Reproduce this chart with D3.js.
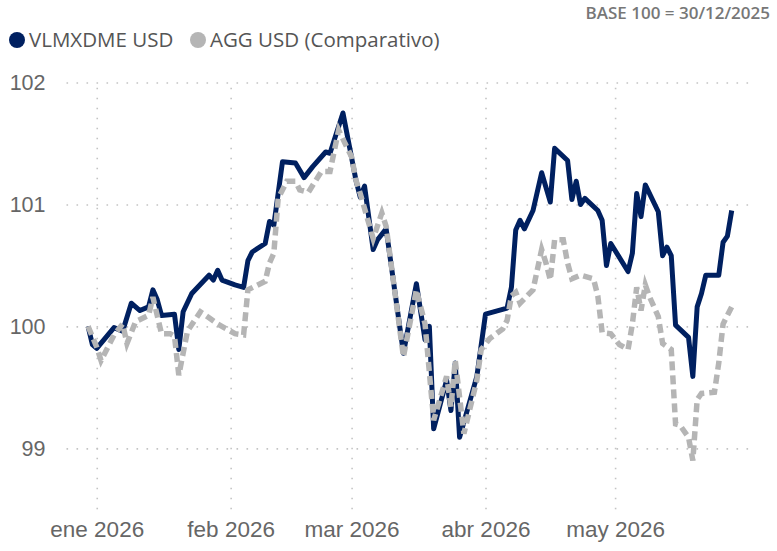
<!DOCTYPE html>
<html>
<head>
<meta charset="utf-8">
<script src="https://cdn.jsdelivr.net/npm/d3@7"></script>
<style>
  body { margin: 0; background: #fff; }
  svg { display: block; font-family: "Open Sans", "Noto Sans", sans-serif; }
  .grid line { stroke: #c4c4c4; stroke-width: 1.6; stroke-dasharray: 1.6 8.4; }
  .grid text { fill: #666; }
  .grid.y text { font-size: 21.5px; }
  .grid.x text { font-size: 22.5px; }
</style>
</head>
<body>
<svg id="chart" width="777" height="551"></svg>
<script>
// series: VLMXDME USD
const fundDates = [
  '2025-12-30', '2025-12-31', '2026-01-01', '2026-01-05', '2026-01-07', '2026-01-09', '2026-01-11',
  '2026-01-13', '2026-01-14', '2026-01-15', '2026-01-16', '2026-01-19', '2026-01-20', '2026-01-21',
  '2026-01-23', '2026-01-27', '2026-01-28', '2026-01-29', '2026-01-30', '2026-02-02', '2026-02-04',
  '2026-02-05', '2026-02-06', '2026-02-09', '2026-02-10', '2026-02-11', '2026-02-13', '2026-02-16',
  '2026-02-17', '2026-02-18', '2026-02-20', '2026-02-23', '2026-02-24', '2026-02-27', '2026-03-02',
  '2026-03-03', '2026-03-04', '2026-03-06', '2026-03-07', '2026-03-09', '2026-03-13', '2026-03-16',
  '2026-03-18', '2026-03-19', '2026-03-20', '2026-03-23', '2026-03-24', '2026-03-25', '2026-03-26',
  '2026-03-30', '2026-04-01', '2026-04-06', '2026-04-07', '2026-04-08', '2026-04-09', '2026-04-10',
  '2026-04-12', '2026-04-14', '2026-04-16', '2026-04-17', '2026-04-20', '2026-04-21', '2026-04-22',
  '2026-04-23', '2026-04-24', '2026-04-27', '2026-04-28', '2026-04-29', '2026-04-30', '2026-05-04',
  '2026-05-05', '2026-05-06', '2026-05-07', '2026-05-08', '2026-05-11', '2026-05-12', '2026-05-13',
  '2026-05-14', '2026-05-15', '2026-05-18', '2026-05-19', '2026-05-20', '2026-05-21', '2026-05-22',
  '2026-05-25', '2026-05-26', '2026-05-27', '2026-05-28'
]
const fundValues = [
  100.00, 99.85, 99.82, 99.99, 99.96, 100.19, 100.13,
  100.16, 100.30, 100.22, 100.09, 100.10, 99.81, 100.12,
  100.27, 100.42, 100.38, 100.46, 100.38, 100.34, 100.32,
  100.54, 100.61, 100.68, 100.86, 100.83, 101.35, 101.34,
  101.28, 101.22, 101.31, 101.43, 101.42, 101.75, 101.20,
  101.06, 101.15, 100.63, 100.71, 100.80, 99.78, 100.35,
  99.89, 100.00, 99.16, 99.56, 99.31, 99.70, 99.09,
  99.59, 100.10, 100.15, 100.32, 100.79, 100.87, 100.80,
  100.95, 101.26, 101.02, 101.46, 101.36, 101.04, 101.19,
  101.00, 101.05, 100.95, 100.87, 100.50, 100.68, 100.45,
  100.60, 101.09, 100.90, 101.16, 100.94, 100.58, 100.65,
  100.58, 100.01, 99.91, 99.59, 100.16, 100.27, 100.42,
  100.42, 100.69, 100.74, 100.95
]

// series: AGG USD (Comparativo)
const aggDates = [
  '2025-12-30', '2026-01-01', '2026-01-02', '2026-01-05', '2026-01-07', '2026-01-08', '2026-01-10',
  '2026-01-13', '2026-01-14', '2026-01-16', '2026-01-18', '2026-01-19', '2026-01-20', '2026-01-22',
  '2026-01-25', '2026-01-27', '2026-01-29', '2026-02-02', '2026-02-04', '2026-02-05', '2026-02-09',
  '2026-02-10', '2026-02-11', '2026-02-12', '2026-02-14', '2026-02-16', '2026-02-17', '2026-02-19',
  '2026-02-22', '2026-02-24', '2026-02-26', '2026-03-01', '2026-03-02', '2026-03-03', '2026-03-06',
  '2026-03-08', '2026-03-09', '2026-03-13', '2026-03-16', '2026-03-18', '2026-03-20', '2026-03-23',
  '2026-03-24', '2026-03-25', '2026-03-27', '2026-03-30', '2026-03-31', '2026-04-02', '2026-04-05',
  '2026-04-06', '2026-04-07', '2026-04-08', '2026-04-09', '2026-04-12', '2026-04-14', '2026-04-15',
  '2026-04-16', '2026-04-17', '2026-04-19', '2026-04-20', '2026-04-21', '2026-04-23', '2026-04-26',
  '2026-04-27', '2026-04-28', '2026-04-30', '2026-05-02', '2026-05-04', '2026-05-05', '2026-05-06',
  '2026-05-07', '2026-05-08', '2026-05-09', '2026-05-11', '2026-05-12', '2026-05-14', '2026-05-15',
  '2026-05-16', '2026-05-18', '2026-05-19', '2026-05-20', '2026-05-21', '2026-05-24', '2026-05-25',
  '2026-05-26', '2026-05-28'
]
const aggValues = [
  100.00, 99.83, 99.72, 99.93, 100.02, 99.86, 100.04,
  100.09, 100.24, 99.94, 99.94, 99.92, 99.60, 99.96,
  100.12, 100.07, 100.02, 99.94, 99.93, 100.30, 100.37,
  100.52, 100.60, 101.05, 101.19, 101.19, 101.12, 101.10,
  101.27, 101.27, 101.61, 101.39, 101.20, 101.09, 100.72,
  100.93, 100.82, 99.75, 100.30, 100.02, 99.23, 99.59,
  99.34, 99.72, 99.12, 99.56, 99.81, 99.90, 99.98,
  100.05, 100.25, 100.28, 100.19, 100.30, 100.63, 100.52,
  100.38, 100.71, 100.71, 100.52, 100.39, 100.42, 100.39,
  100.25, 99.95, 99.94, 99.85, 99.81, 100.02, 100.32,
  100.13, 100.34, 100.24, 100.08, 99.86, 99.81, 99.20,
  99.19, 99.09, 98.90, 99.40, 99.45, 99.46, 99.70,
  100.02, 100.16
]

const seriesNames = ['VLMXDME USD', 'AGG USD (Comparativo)']
const yTicks = [99, 100, 101, 102]
const monthTicks = ['2026-01-01', '2026-02-01', '2026-03-01', '2026-04-01', '2026-05-01']
const monthLabels = ['ene 2026', 'feb 2026', 'mar 2026', 'abr 2026', 'may 2026']
const baseLabel = 'BASE 100 = 30/12/2025'

const parse = d3.timeParse('%Y-%m-%d')
const toPoints = (dates, values) => dates.map((d, i) => ({ date: parse(d), value: values[i] }))

const fund = toPoints(fundDates, fundValues)
const agg = toPoints(aggDates, aggValues)

const svg = d3.select('#chart')

const plot = { left: 66.5, right: 749, top: 80, bottom: 509.3 }

const x = d3.scaleTime()
  .domain([parse('2025-12-25'), parse('2026-06-01')])
  .range([plot.left, plot.right])

const y = d3.scaleLinear()
  .domain([98.5, 102])
  .range([plot.bottom, 82.5])

// horizontal grid + labels
const axisY = d3.axisLeft(y)
  .tickValues(yTicks)
  .tickFormat(d3.format('d'))
  .tickSize(-(plot.right - plot.left))
  .tickPadding(21)

svg.append('g')
  .attr('class', 'grid y')
  .attr('transform', `translate(${plot.left}, 0)`)
  .call(axisY)
  .call((g) => g.select('.domain').remove())
  .call((g) => g.selectAll('text').attr('dy', '0.34em'))

// vertical grid + month labels
const axisX = d3.axisBottom(x)
  .tickValues(monthTicks.map(parse))
  .tickFormat((d, i) => monthLabels[i])
  .tickSize(-(plot.bottom - plot.top))
  .tickPadding(12)

svg.append('g')
  .attr('class', 'grid x')
  .attr('transform', `translate(0, ${plot.bottom})`)
  .call(axisX)
  .call((g) => g.select('.domain').remove())

const line = d3.line()
  .x((v) => x(v.date))
  .y((v) => y(v.value))

svg.append('path')
  .attr('d', line(fund))
  .attr('fill', 'none')
  .attr('stroke', '#002060')
  .attr('stroke-width', 5)
  .attr('stroke-linejoin', 'round')

svg.append('path')
  .attr('d', line(agg))
  .attr('fill', 'none')
  .attr('stroke', '#b5b5b5')
  .attr('stroke-width', 5.5)
  .attr('stroke-dasharray', '9 5')

// legend
const legend = svg.append('g').attr('transform', 'translate(0, 40)')
const legendColors = ['#002060', '#b5b5b5']
const legendX = [17, 198]

seriesNames.forEach((name, i) => {
  legend.append('circle')
    .attr('cx', legendX[i])
    .attr('cy', 0)
    .attr('r', 8)
    .attr('fill', legendColors[i])
  legend.append('text')
    .attr('x', legendX[i] + 12)
    .attr('y', 0)
    .attr('dy', '0.35em')
    .attr('fill', '#555')
    .style('font-size', '20.5px')
    .text(name)
})

svg.append('text')
  .attr('x', 770)
  .attr('y', 13)
  .attr('dy', '0.35em')
  .attr('text-anchor', 'end')
  .attr('fill', '#777')
  .style('font-size', '17px')
  .style('font-weight', 600)
  .text(baseLabel)
</script>
</body>
</html>
